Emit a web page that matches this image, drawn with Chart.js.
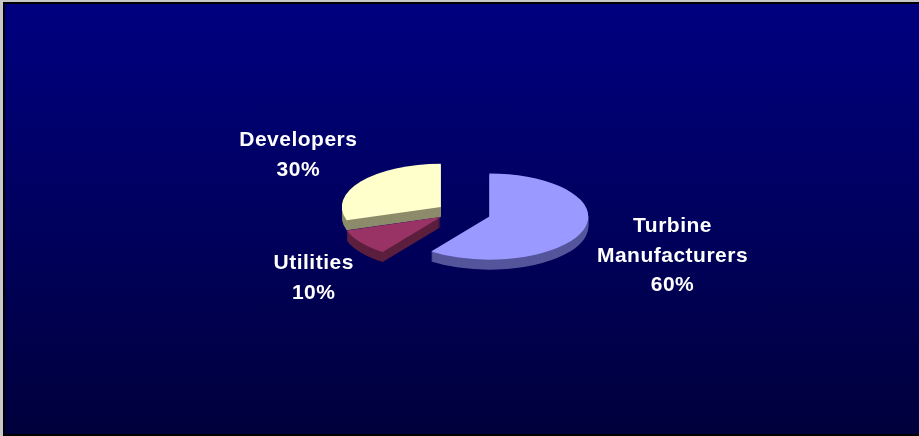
<!DOCTYPE html>
<html lang="en">
<head>
    <meta charset="UTF-8">
    <title>Market Share</title>
    <script src="https://cdn.jsdelivr.net/npm/chart.js"></script>
    <style>
        html, body { margin: 0; padding: 0; background: #c8c8c8; overflow: hidden; }
        #frame {
            position: absolute;
            left: 3px;
            top: 2px;
            width: 914px;
            height: 430px;
            border: 2px solid #000;
            border-right: none;
            background: linear-gradient(#000080, #00003c);
        }
    </style>
</head>
<body>
    <div id="frame">
        <canvas id="myChart"></canvas>
    </div>

    <script>
        const categories = ['Turbine Manufacturers', 'Utilities', 'Developers'];
        const shares = [60, 10, 30];

        // fake 3D: squash the pie, stack darker copies underneath, explode slices
        const pie3d = {
            id: 'pie3d',
            beforeDatasetDraw(chart, args) {
                const ctx = chart.ctx;
                const o = chart.options.plugins.pie3d;
                const arcs = args.meta.data;
                const cx = arcs[0].x, cy = arcs[0].y;

                const place = (arc, i, drop) => {
                    const mid = (arc.startAngle + arc.endAngle) / 2;
                    const d = o.explode[i];
                    ctx.save();
                    ctx.translate(cx, cy + drop);
                    ctx.scale(1, o.tilt);
                    ctx.translate(-cx, -cy);
                    ctx.translate(Math.cos(mid) * d, Math.sin(mid) * d);
                };

                for (let k = o.depth; k >= 1; k--) {
                    arcs.forEach((arc, i) => {
                        const side = Object.create(arc);
                        side.options = Object.assign({}, arc.options, { backgroundColor: o.sideColors[i] });
                        place(arc, i, k);
                        side.draw(ctx);
                        ctx.restore();
                    });
                }
                arcs.forEach((arc, i) => {
                    place(arc, i, 0);
                    arc.draw(ctx);
                    ctx.restore();
                });
                return false;
            },
            afterDatasetsDraw(chart) {
                const ctx = chart.ctx;
                const o = chart.options.plugins.pie3d;
                const meta = chart.getDatasetMeta(0);
                const values = chart.data.datasets[0].data;
                const total = values.reduce((a, b) => a + b, 0);

                ctx.save();
                ctx.font = o.font;
                ctx.letterSpacing = o.letterSpacing;
                ctx.fillStyle = '#fff';
                ctx.textAlign = 'center';
                ctx.textBaseline = 'alphabetic';
                meta.data.forEach((arc, i) => {
                    const mid = (arc.startAngle + arc.endAngle) / 2;
                    const lines = [...String(chart.data.labels[i]).split(' '), Math.round(values[i] / total * 100) + '%'];
                    const w = Math.max(...lines.map(t => ctx.measureText(t).width));
                    const h = (lines.length - 1) * o.lineHeight + o.capHeight;
                    const r = o.explode[i] + arc.outerRadius + o.labelGap;
                    const x = arc.x + Math.cos(mid) * (r + w / 2);
                    const y = arc.y + Math.sin(mid) * (r * o.labelTilt + h / 2) + o.labelDrop;
                    const base = y - h / 2 + o.capHeight;
                    lines.forEach((t, j) => ctx.fillText(t, x, base + j * o.lineHeight));
                });
                ctx.restore();
            }
        };

        const ctx = document.getElementById('myChart').getContext('2d');
        new Chart(ctx, {
            type: 'pie',
            data: {
                labels: categories,
                datasets: [{
                    data: shares,
                    backgroundColor: ['#9999ff', '#993366', '#ffffcc'],
                    borderWidth: 0,
                    radius: 99
                }]
            },
            options: {
                responsive: true,
                maintainAspectRatio: false,
                animation: false,
                events: [],
                layout: { padding: { right: 10, bottom: 14 } },
                plugins: {
                    legend: { display: false },
                    tooltip: { enabled: false },
                    pie3d: {
                        tilt: 0.435,
                        depth: 10,
                        explode: [34, 20, 20],
                        sideColors: ['#55559c', '#5c1f3e', '#8c8c6c'],
                        font: 'bold 21px "Liberation Sans", Arial, sans-serif',
                        letterSpacing: '0.5px',
                        lineHeight: 29.5,
                        capHeight: 15,
                        labelGap: 18,
                        labelTilt: 0.6,
                        labelDrop: 3
                    }
                }
            },
            plugins: [pie3d]
        });
    </script>
</body>
</html>
